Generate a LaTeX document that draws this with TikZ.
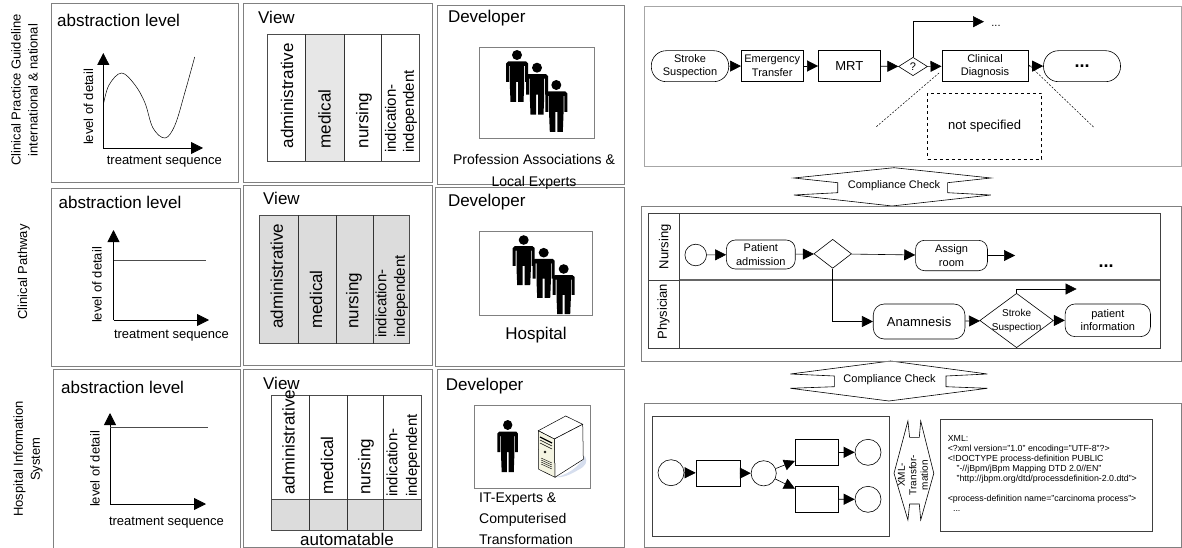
\documentclass[tikz,border=0pt]{standalone}
\usepackage{fontspec}
\setmainfont{Liberation Sans}
\usetikzlibrary{arrows.meta,shapes.geometric}
\definecolor{framegray}{HTML}{808080}
\definecolor{lanegray}{HTML}{DCDCDC}
\definecolor{servercream}{HTML}{F4F4E2}
\definecolor{servershade}{HTML}{D6DEEE}
\tikzset{
  title/.style={font=\fontsize{17}{19}\selectfont,inner sep=0pt,anchor=west},
  axislabel/.style={font=\fontsize{13}{15}\selectfont,inner sep=0pt},
  viewlabel/.style={font=\fontsize{17}{19}\selectfont,inner sep=0pt,anchor=west,rotate=90},
  viewlabelsmall/.style={font=\fontsize{15}{17}\selectfont,inner sep=0pt,anchor=west,rotate=90},
  sidelabel/.style={font=\fontsize{13}{17}\selectfont,inner sep=0pt,rotate=90,align=center},
  frame/.style={draw=framegray,line width=.8pt},
  axis/.style={line width=.8pt,-{Triangle[length=12pt,width=12pt]}},
  flow/.style={line width=.6pt,-{Triangle[length=11pt,width=11pt]}},
  task/.style={draw,line width=.6pt,inner sep=0pt,align=center,font=\fontsize{11}{13.5}\selectfont},
  gate/.style={draw,diamond,line width=.6pt,inner sep=0pt},
  state/.style={draw,circle,line width=.6pt,inner sep=0pt},
  check/.style={draw,line width=.6pt,line join=miter},
  person/.pic={
    \fill[black] (0,0) circle[radius=5];
    \fill[black] (-9,6.5) -- (9,6.5) -- (11,8.5) -- (11,27) -- (8,27) -- (8,11) -- (7.2,11) -- (7.2,29) -- (6.5,47)
      -- (1,47) -- (1,27) -- (-1,27) -- (-1,47) -- (-6.5,47) -- (-7.2,29) -- (-7.2,11) -- (-8,11) -- (-8,27) -- (-11,27) -- (-11,8.5) -- cycle;
  }
}
\begin{document}
\begin{tikzpicture}[x=1pt,y=-1pt]
  \useasboundingbox (0,0) rectangle (1182,548);
  % left labels
  \node[sidelabel] (rowguide) at (24.5,90) {Clinical Practice Guideline\\international \& national};
  \node[sidelabel] (rowpath) at (23.7,272) {Clinical Pathway};
  \node[sidelabel] (rowhis) at (28,459) {Hospital Information\\System};
  % panel frames
  \draw[frame] (51.4,3.5) rectangle (238.8,182);
  \draw[frame] (243.5,3.5) rectangle (432.3,182);
  \draw[frame] (437.5,5) rectangle (624.5,184);
  \draw[frame] (51.4,188) rectangle (240.4,366);
  \draw[frame] (243.7,185) rectangle (432,365);
  \draw[frame] (435.5,187) rectangle (624.5,366);
  \draw[frame] (53,369) rectangle (240.4,548);
  \draw[frame] (243.7,369) rectangle (432,547.5);
  \draw[frame] (437.5,369) rectangle (624.5,547.5);
  % abstraction level
  \node[title] (abs1) at (57,20) {abstraction level};
  \node[title] (abs2) at (58.4,202) {abstraction level};
  \node[title] (abs3) at (61,387) {abstraction level};
  \draw[axis] (103.3,148) -- (103.3,53);
  \draw[axis] (103.3,148) -- (203,148);
  \draw[line width=.5pt] plot[smooth,tension=.6] coordinates {(103.3,105) (109,85) (121.6,73) (135,85) (145,103) (153,128) (165,138) (175,125) (185,92) (194.7,57)};
  \node[axislabel,rotate=90] (lod1) at (88.6,107) {level of detail};
  \node[axislabel] (seq1) at (164.3,162) {treatment sequence};
  \draw[axis] (113.5,320) -- (113.5,230);
  \draw[axis] (113.5,320) -- (209,320);
  \draw[line width=.7pt,black!70] (113.5,260) -- (206,260);
  \node[axislabel,rotate=90] (lod2) at (97,285) {level of detail};
  \node[axislabel] (seq2) at (171.5,336) {treatment sequence};
  \draw[axis] (110,504) -- (110,413);
  \draw[axis] (110,504) -- (206,504);
  \draw[line width=.7pt,black!70] (110,427) -- (208,427);
  \node[axislabel,rotate=90] (lod3) at (95,469) {level of detail};
  \node[axislabel] (seq3) at (166.5,523) {treatment sequence};
  % view
  \node[title] (view1) at (258,17) {View};
  \node[title] (view2) at (263,198) {View};
  \node[title] (view3) at (263,383) {View};
  \fill[lanegray!70] (305.3,34.5) rectangle (344.5,161.5);
  \draw[line width=.7pt,black!70] (267.8,34.5) rectangle (419.6,161.5);
  \foreach \x in {305.3,344.5,381.6} \draw[line width=.7pt,black!80] (\x,34.5) -- (\x,161.5);
  \node[viewlabel] (admin1) at (287,148.5) {administrative};
  \node[viewlabel] (med1) at (324.5,148.5) {medical};
  \node[viewlabel] (nurs1) at (364,148.5) {nursing};
  \node[viewlabelsmall] (ind1) at (390.6,153) {indication-};
  \node[viewlabelsmall] (dep1) at (410,153) {independent};
  \draw[line width=.7pt,black!70,fill=lanegray] (259.6,215) rectangle (409.4,343.5);
  \foreach \x in {298.4,336.7,373.5} \draw[line width=.7pt,black!80] (\x,215) -- (\x,343.5);
  \node[viewlabel] (admin2) at (276.7,329) {administrative};
  \node[viewlabel] (med2) at (316,329) {medical};
  \node[viewlabel] (nurs2) at (354,329) {nursing};
  \node[viewlabelsmall] (ind2) at (381,338) {indication-};
  \node[viewlabelsmall] (dep2) at (401,338) {independent};
  \fill[lanegray] (271.4,499.3) rectangle (421,530);
  \draw[line width=.7pt,black!70] (271.4,395) rectangle (421,530);
  \draw[line width=.7pt,black!70] (271.4,499.3) -- (421,499.3);
  \foreach \x in {309.4,347,383.7} \draw[line width=.7pt,black!80] (\x,395) -- (\x,530);
  \node[viewlabel] (admin3) at (288.6,495) {administrative};
  \node[viewlabel] (med3) at (327,495) {medical};
  \node[viewlabel] (nurs3) at (366,495) {nursing};
  \node[viewlabelsmall] (ind3) at (392,497) {indication-};
  \node[viewlabelsmall] (dep3) at (413,497) {independent};
  \node[title,anchor=center] (auto) at (347,539) {automatable};
  % developer
  \node[title] (dev1) at (447.8,18.5) {Developer};
  \node[title] (dev2) at (447.8,202) {Developer};
  \node[title] (dev3) at (445.7,385.7) {Developer};
  \draw[frame] (479.5,47) rectangle (594,138);
  \pic at (517,55) {person};
  \pic at (537,67.7) {person};
  \pic at (556.3,85) {person};
  \node[axislabel,font=\fontsize{14}{22}\selectfont,align=center] (who1) at (534,172) {Profession Associations \&\\Local Experts};
  \draw[frame] (479.5,231) rectangle (592,315);
  \pic[yscale=.96] at (523.7,240) {person};
  \pic[yscale=.96] at (543.7,252.7) {person};
  \pic[yscale=.96] at (563.7,269) {person};
  \node[axislabel,font=\fontsize{17}{19}\selectfont] (who2) at (536,335) {Hospital};
  \draw[frame] (474.3,405) rectangle (590.3,488);
  \pic[xscale=.93] at (507.7,425) {person};
  % server
  \fill[servershade] (556,477) .. controls (572,474) and (582,462) .. (585,456) .. controls (588,462) and (586,466) .. (578,470) .. controls (570,475) and (562,478) .. (556,477);
  \draw[line width=.5pt,fill=white] (538.3,430.7) -- (565.7,416) -- (582.7,424.3) -- (554.3,439) -- cycle;
  \draw[line width=.5pt,fill=white] (554.3,439) -- (582.7,424.3) -- (583.3,459.3) -- (555,477.3) -- cycle;
  \draw[line width=.5pt,fill=servercream] (538.3,430.7) -- (554.3,439) -- (555,477.3) -- (538.7,469.3) -- cycle;
  \draw[line width=1.2pt] (540,437) -- (552,443);
  \draw[line width=.5pt] (540,440) -- (552,446);
  \draw[line width=.5pt] (540,443) -- (552,449);
  \draw[line width=.5pt] (545,452) circle[radius=1];
  \foreach \y in {458,460,462,464} \draw[line width=.4pt] (541,\y) -- (552,\y+5);
  \node[axislabel,font=\fontsize{14}{21}\selectfont,align=left,anchor=north west] (who3) at (479,493) {IT-Experts \&\\Computerised\\Transformation};
  % guideline panel
  \draw[frame,draw=framegray!70] (644,6.7) rectangle (1181,166.7);
  \node[task,minimum width=77.4,minimum height=31,rounded corners=15] (suspect) at (690,66.2) {Stroke\\Suspection};
  \node[task,minimum width=61.8,minimum height=30.5] (transfer) at (772.2,66) {Emergency\\Transfer};
  \node[task,minimum width=61.8,minimum height=30.5,font=\fontsize{13}{15}\selectfont] (mrt) at (849.3,66) {MRT};
  \node[gate,minimum width=29,minimum height=18.4] (ask) at (913,66.5) {};
  \node[inner sep=0pt,font=\fontsize{11}{13}\selectfont] (asklabel) at (ask) {?};
  \node[task,minimum width=86.4,minimum height=30.5] (diagnosis) at (985,66) {Clinical\\Diagnosis};
  \node[task,minimum width=77,minimum height=31,rounded corners=15,font=\fontsize{18}{20}\selectfont\bfseries] (rest) at (1082,66.2) {...};
  \coordinate (askend) at (984,21.7);
  \node[inner sep=0pt,font=\fontsize{11}{13}\selectfont] (askmore) at (996,26) {...};
  \draw[flow] (suspect) -- (transfer);
  \draw[flow] (transfer) -- (mrt);
  \draw[flow] (mrt) -- (ask);
  \draw[flow] (ask) -- (diagnosis);
  \draw[flow] (diagnosis) -- (rest);
  \draw[flow] (ask.north) |- (askend);
  \coordinate (cutleft) at (939,73);
  \coordinate (cutleftend) at (876,127);
  \coordinate (cutright) at (1029,65);
  \coordinate (cutrightend) at (1093.5,127);
  \draw[dash pattern=on 2pt off 1.5pt,line width=.5pt] (cutleft) -- (cutleftend);
  \draw[dash pattern=on 2pt off 1.5pt,line width=.5pt] (cutright) -- (cutrightend);
  \node[draw,dashed,line width=.6pt,minimum width=114,minimum height=66,inner sep=0pt,font=\fontsize{13}{15}\selectfont] (open) at (984.6,126.3) {not specified};
  % compliance checks
  \draw[check] (793.8,178) -- (894,167.7) -- (990.9,178) -- (947.6,182.7) -- (947.6,192.7) -- (990.9,195) -- (892,206) -- (793.8,195) -- (837.7,192.7) -- (837.7,182.7) -- cycle;
  \node[inner sep=0pt,font=\fontsize{11}{13}\selectfont] (check1) at (894,186) {Compliance Check};
  \draw[check] (790.4,374) -- (890.6,361) -- (987.4,374) -- (946,376) -- (946,386.7) -- (987.4,388.3) -- (888.9,401) -- (790.4,388.3) -- (834.3,386.7) -- (834.3,376) -- cycle;
  \node[inner sep=0pt,font=\fontsize{11}{13}\selectfont] (check2) at (889.6,379.3) {Compliance Check};
  % pathway panel
  \draw[frame] (641,206.7) rectangle (1181,361);
  \draw[line width=.7pt,black!75] (648.3,213.3) rectangle (1160,348.3);
  \draw[line width=.7pt,black!75] (679.8,213.3) -- (679.8,348.3);
  \draw[line width=.7pt,black!75] (648.3,280) -- (679.8,280);
  \draw[line width=1.4pt,black!60] (679.8,280) -- (1160,280);
  \node[axislabel,rotate=90] (nursing) at (664.9,246.7) {Nursing};
  \node[axislabel,rotate=90] (physician) at (663.5,311.7) {Physician};
  \node[state,minimum size=21.6] (start) at (695.7,255) {};
  \node[task,minimum width=68.8,minimum height=29,rounded corners=9] (admit) at (760.8,254.5) {Patient\\admission};
  \node[gate,minimum width=37.6,minimum height=29] (split) at (832.7,253.8) {};
  \node[task,minimum width=71.9,minimum height=30.4,rounded corners=9] (assign) at (951.5,255.5) {Assign\\room};
  \coordinate (assignend) at (1015,255.5);
  \node[inner sep=0pt,font=\fontsize{18}{20}\selectfont\bfseries] (lanemore) at (1106,266) {...};
  \node[task,minimum width=91.7,minimum height=35,rounded corners=11,font=\fontsize{13}{15}\selectfont] (anamnesis) at (919.1,321.5) {Anamnesis};
  \node[gate,minimum width=73.6,minimum height=54.4] (stroke) at (1016.6,320.5) {};
  \node[inner sep=0pt,align=center,font=\fontsize{10}{14}\selectfont] (strokelabel) at (stroke) {Stroke\\Suspection};
  \node[task,minimum width=85.3,minimum height=32.7,rounded corners=10] (inform) at (1107.8,320.3) {patient\\information};
  \coordinate (strokeend) at (1076.6,289);
  \draw[flow] (start) -- (admit);
  \draw[flow] (admit) -- (split);
  \draw[flow] (split) -- (assign);
  \draw[flow] (assign) -- (assignend);
  \draw[flow] (split.south) |- (anamnesis);
  \draw[flow] (anamnesis) -- (stroke);
  \draw[flow] (stroke) -- (inform);
  \draw[flow] (stroke.north) -- ++(0,-4) -- (strokeend);
  % system panel
  \draw[frame] (644,403.3) rectangle (1181,547);
  \draw[line width=.7pt,black!75] (652.4,416.7) rectangle (889.6,536.7);
  \node[state,minimum size=26] (begin) at (671,472.7) {};
  \node[task,minimum width=44.2,minimum height=26] (step1) at (718.1,473) {};
  \node[state,minimum size=25.2] (fork) at (763.7,473.3) {};
  \node[task,minimum width=42.8,minimum height=26.7] (step2) at (816.6,452.3) {};
  \node[task,minimum width=42.8,minimum height=26.3] (step3) at (816.6,499.2) {};
  \node[state,minimum size=26] (end1) at (868,452.3) {};
  \node[state,minimum size=26] (end2) at (868,499.3) {};
  \draw[flow] (begin) -- (step1);
  \draw[flow] (step1) -- (fork);
  \draw[flow] (fork) -- (step2);
  \draw[flow] (fork) -- (step3);
  \draw[flow] (step2) -- (end1);
  \draw[flow] (step3) -- (end2);
  \draw[check] (907.9,421) -- (894,473.3) -- (907.9,520) -- (909.6,504) -- (919.3,504) -- (920.7,520) -- (933.8,473.3) -- (920.7,421) -- (919.3,437.3) -- (909.6,437.3) -- cycle;
  \node[inner sep=0pt,rotate=90,align=center,font=\fontsize{10}{11.5}\selectfont] (xmlstep) at (913,475) {XML-\\Transfor-\\mation};
  \draw[line width=.7pt,black!75] (940.4,419.3) rectangle (1152.3,531);
  \node[inner sep=0pt,anchor=north west,align=left,font=\fontsize{8.8}{10}\selectfont] (xmlcode) at (947.6,435) {XML:\\
    <?xml version="1.0" encoding="UTF-8"?>\\
    <!DOCTYPE process-definition PUBLIC\\
    \hspace*{1em}"-//jBpm/jBpm Mapping DTD 2.0//EN"\\
    \hspace*{1em}"http://jbpm.org/dtd/processdefinition-2.0.dtd">\\[10pt]
    <process-definition name="carcinoma process">\\
    \hspace*{.6em}...};
\end{tikzpicture}
\end{document}
